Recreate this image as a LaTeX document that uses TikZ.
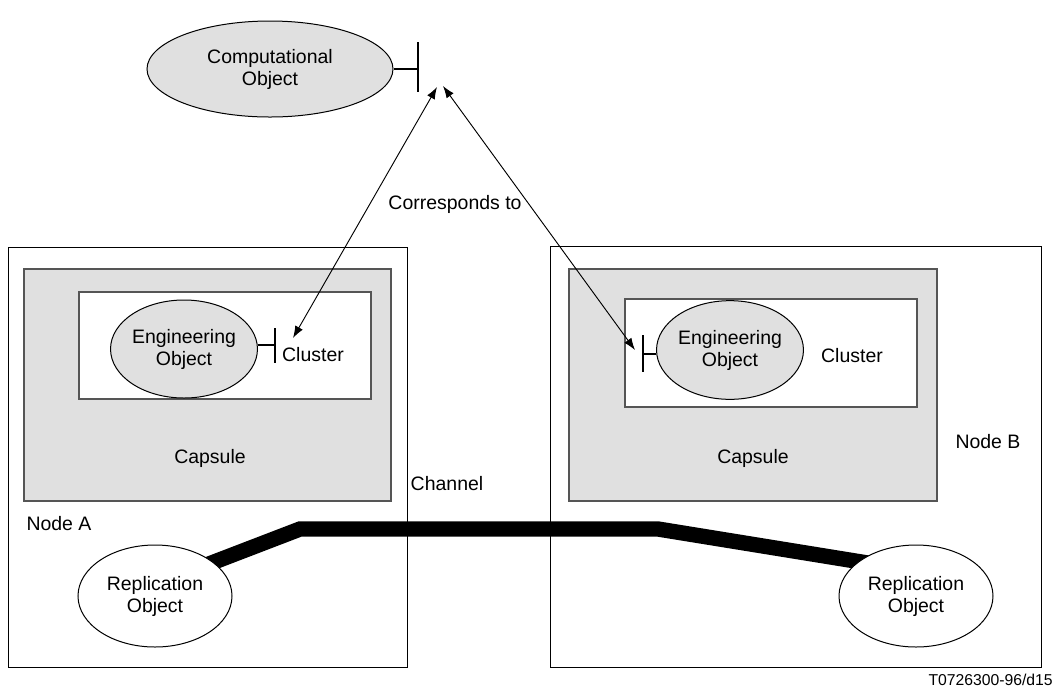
\documentclass[tikz,border=0pt]{standalone}
\usepackage{fontspec}
\setmainfont{Liberation Sans}
\usetikzlibrary{shapes.geometric,arrows.meta}
\definecolor{lgray}{HTML}{E0E0E0}
\definecolor{bgray}{HTML}{555555}
\tikzset{
  ell/.style={ellipse, draw=black, line width=0.75pt, inner sep=0pt, align=center,
              font=\fontsize{14.6}{16.5}\selectfont},
  lbl/.style={inner sep=0pt, align=center, font=\fontsize{14.6}{16.5}\selectfont},
  outerbox/.style={draw=black, line width=0.75pt, fill=white},
  capbox/.style={draw=bgray, line width=1.3pt, fill=lgray},
  clubox/.style={draw=bgray, line width=1.3pt, fill=white},
  tee/.style={line width=1.5pt},
  corr/.style={line width=0.7pt, {Latex[length=9pt,width=6.5pt]}-{Latex[length=9pt,width=6.5pt]}},
  chan/.style={line width=11.5pt, line join=miter}
}
\begin{document}
\begin{tikzpicture}[x=0.75pt,y=-0.75pt]
\useasboundingbox (0,0) rectangle (1058,694);
% Node A
\draw[outerbox] (8,247) rectangle (407,667);
\draw[capbox] (24,269) rectangle (391,501);
\draw[clubox] (79,292) rectangle (371,399);
% Node B
\draw[outerbox] (550,246) rectangle (1041,667);
\draw[capbox] (569,269) rectangle (937,501);
\draw[clubox] (625,299) rectangle (917,407);
% channel
\coordinate (ch1) at (175,577);
\coordinate (ch2) at (300,529);
\coordinate (ch3) at (658,529);
\coordinate (ch4) at (880,565);
\draw[chan] (ch1) -- (ch2) -- (ch3) -- (ch4);
% computational object
\node[ell, fill=lgray, minimum width=184.5pt, minimum height=72pt] (comp) at (270,69) {Computational\\Object};
\coordinate (tcA) at (418,69);
\draw[tee] (comp.east) -- (tcA);
\draw[tee] (418,42) -- (418,92);
% engineering objects
\node[ell, fill=lgray, minimum width=100.5pt, minimum height=73.5pt] (engA) at (184,349) {Engineering\\Object};
\coordinate (teA) at (275,345);
\draw[tee] (engA.east |- teA) -- (teA);
\draw[tee] (275,328) -- (275,363);
\node[lbl] (cluA) at (313,355) {Cluster};
\node[ell, fill=lgray, minimum width=100.5pt, minimum height=74pt] (engB) at (730,350) {Engineering\\Object};
\coordinate (teB) at (643,354);
\draw[tee] (engB.west |- teB) -- (teB);
\draw[tee] (643,335) -- (643,372);
\node[lbl] (cluB) at (852,356) {Cluster};
\node[lbl] (capA) at (210,458) {Capsule};
\node[lbl] (capB) at (753,458) {Capsule};
\node[lbl] (nodeA) at (59,524) {Node A};
\node[lbl] (nodeB) at (988,442) {Node B};
\node[lbl] (chanl) at (447,484) {Channel};
% replication objects
\node[ell, fill=white, minimum width=115.5pt, minimum height=76.5pt] (repA) at (155,596) {Replication\\Object};
\node[ell, fill=white, minimum width=115.5pt, minimum height=76.5pt] (repB) at (916,596) {Replication\\Object};
% corresponds-to arrows
\coordinate (c1a) at (437,87);
\coordinate (c1b) at (293,338);
\coordinate (c2a) at (443,86);
\coordinate (c2b) at (635,350);
\draw[corr] (c1a) -- (c1b);
\draw[corr] (c2a) -- (c2b);
\node[lbl] (corrl) at (455,204) {Corresponds to};
\node[lbl, anchor=east, font=\fontsize{11.8}{13}\selectfont] (cap) at (1053,680) {T0726300-96/d15};
\end{tikzpicture}
\end{document}
